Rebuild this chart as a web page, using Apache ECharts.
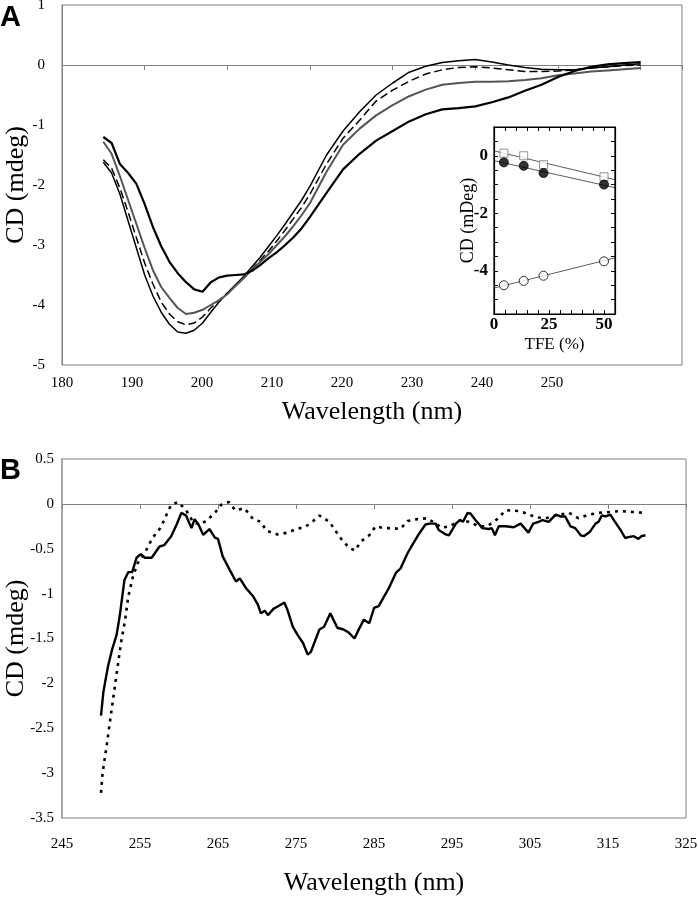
<!DOCTYPE html>
<html>
<head>
<meta charset="utf-8">
<script src="https://cdn.jsdelivr.net/npm/echarts@6.0.0/dist/echarts.min.js"></script>
<style>
  html, body { margin: 0; padding: 0; background: #fff; }
  #main { width: 698px; height: 900px; }
</style>
</head>
<body>
<div id="main"></div>
<script>
// ---- panel A: far-UV spectra ----
var waveA = [185,186,187,188,189,190,191,192,193,194,195,196,197,198,199,200,201,202,203,204,205,206,207,208,209,210,212,214,216,218,220,222,224,226,228,230,232,234,236,238,240,242,244,246,248,250];
var cdSolid = [-1.62,-1.8,-2.15,-2.6,-3.05,-3.5,-3.85,-4.12,-4.32,-4.45,-4.47,-4.42,-4.3,-4.12,-3.95,-3.8,-3.66,-3.52,-3.36,-3.2,-3.02,-2.84,-2.65,-2.45,-2.25,-2.02,-1.5,-1.1,-0.78,-0.5,-0.3,-0.12,-0.02,0.04,0.07,0.09,0.05,0.0,-0.04,-0.07,-0.08,-0.08,-0.05,-0.03,0.0,0.02];
var cdDashed = [-1.58,-1.72,-2.05,-2.45,-2.88,-3.3,-3.65,-3.95,-4.15,-4.28,-4.33,-4.3,-4.2,-4.05,-3.92,-3.8,-3.68,-3.55,-3.4,-3.25,-3.1,-2.93,-2.75,-2.56,-2.37,-2.15,-1.65,-1.22,-0.92,-0.6,-0.42,-0.27,-0.15,-0.08,-0.04,-0.03,-0.05,-0.08,-0.11,-0.11,-0.1,-0.08,-0.05,-0.03,-0.01,0.0];
var cdGray = [-1.28,-1.48,-1.85,-2.25,-2.65,-3.05,-3.42,-3.7,-3.88,-4.05,-4.15,-4.13,-4.08,-4.0,-3.92,-3.82,-3.68,-3.55,-3.4,-3.28,-3.15,-3.0,-2.85,-2.68,-2.5,-2.3,-1.78,-1.33,-1.06,-0.84,-0.67,-0.52,-0.41,-0.33,-0.3,-0.28,-0.28,-0.27,-0.25,-0.22,-0.17,-0.14,-0.11,-0.09,-0.07,-0.05];
var cdThick = [-1.2,-1.3,-1.65,-1.8,-1.98,-2.32,-2.7,-3.02,-3.28,-3.47,-3.62,-3.74,-3.78,-3.62,-3.54,-3.51,-3.5,-3.49,-3.43,-3.33,-3.22,-3.12,-3.0,-2.87,-2.72,-2.53,-2.13,-1.74,-1.48,-1.26,-1.1,-0.94,-0.82,-0.74,-0.72,-0.69,-0.62,-0.54,-0.43,-0.33,-0.2,-0.1,-0.03,0.01,0.03,0.05];

// ---- inset: CD vs TFE ----
var tfe = [4.5, 13.5, 22.5, 50];
var cdSquare = [0.09, 0, -0.31, -0.73];
var cdFilled = [-0.23, -0.35, -0.6, -1.0];
var cdOpen = [-4.5, -4.35, -4.17, -3.67];
var fitTfe = [0, 55];
var fitSquare = [0.17, -0.83];
var fitFilled = [-0.17, -1.11];
var fitOpen = [-4.6, -3.55];

// ---- panel B: near-UV spectra ----
var waveBSolid = [250,250.3,250.5,250.9,251.4,252,252.4,253,253.5,254,254.55,255.1,255.6,256.5,257.5,258.1,259,259.7,260.3,260.9,261.6,262,262.5,263.1,263.9,264.6,265,265.6,266.5,267.3,267.8,268.6,269.5,270.1,270.5,271,271.4,272.1,272.7,273.5,273.9,274.6,275.2,275.9,276.5,276.9,278,278.6,279.4,280.3,281.1,281.7,282.5,283.1,283.7,284.4,285,285.6,286.3,286.9,287.8,288.4,289.3,289.9,290.8,291.6,292.1,292.9,293.3,294.2,294.6,295.5,296,296.4,297,297.4,298,298.9,299.7,300.1,300.5,301,301.9,302.9,303.8,304.8,305.4,306.1,306.6,307.4,308.3,308.9,309.5,310.2,310.8,311.5,311.9,312.7,313.4,313.8,314.2,314.7,315.3,315.9,316.6,317.2,317.6,318.3,318.9,319.3,319.8];
var cdBSolid = [-2.36,-2.1,-2.0,-1.81,-1.63,-1.46,-1.25,-0.85,-0.76,-0.76,-0.6,-0.56,-0.6,-0.6,-0.475,-0.46,-0.36,-0.23,-0.1,-0.13,-0.27,-0.17,-0.23,-0.345,-0.28,-0.375,-0.39,-0.585,-0.735,-0.865,-0.83,-0.94,-1.03,-1.12,-1.22,-1.19,-1.24,-1.17,-1.14,-1.1,-1.18,-1.37,-1.46,-1.55,-1.68,-1.65,-1.4,-1.37,-1.22,-1.38,-1.4,-1.43,-1.5,-1.39,-1.29,-1.33,-1.16,-1.14,-1.03,-0.94,-0.77,-0.72,-0.55,-0.46,-0.33,-0.23,-0.22,-0.22,-0.29,-0.34,-0.35,-0.22,-0.18,-0.2,-0.1,-0.11,-0.18,-0.27,-0.28,-0.27,-0.35,-0.25,-0.25,-0.26,-0.22,-0.32,-0.22,-0.2,-0.18,-0.2,-0.12,-0.14,-0.14,-0.25,-0.27,-0.35,-0.36,-0.31,-0.22,-0.2,-0.13,-0.14,-0.12,-0.2,-0.29,-0.38,-0.37,-0.36,-0.39,-0.36,-0.35];
var waveBDot = [250,250.2,250.7,251.3,251.8,252.2,252.6,253.1,253.5,254.1,254.7,255.6,256.6,257.7,258.4,259,259.9,260.9,261.8,262.6,263.5,264.6,265.4,266.4,267.2,268.4,269.5,270.5,271.2,272.6,274,275,276.1,277.1,278,279.3,279.9,280.8,281.8,282.6,283.3,284.4,285.2,286.3,287.4,288.4,289.3,290.6,291.8,293.8,295.1,296.1,297.1,298.5,299.5,300.8,301.9,303.6,304.7,305.7,307,308.7,310,311.2,312.5,313.8,315.3,316.6,318.1,319.7];
var cdBDot = [-3.22,-3.0,-2.71,-2.33,-2.02,-1.77,-1.53,-1.29,-1.03,-0.81,-0.66,-0.55,-0.38,-0.26,-0.12,-0.01,0.02,-0.07,-0.2,-0.23,-0.19,-0.1,-0.01,0.02,-0.07,-0.05,-0.17,-0.2,-0.3,-0.34,-0.32,-0.28,-0.26,-0.2,-0.13,-0.2,-0.28,-0.39,-0.49,-0.52,-0.42,-0.35,-0.25,-0.27,-0.27,-0.28,-0.19,-0.17,-0.16,-0.27,-0.23,-0.18,-0.2,-0.25,-0.25,-0.17,-0.07,-0.08,-0.11,-0.15,-0.16,-0.12,-0.1,-0.16,-0.12,-0.1,-0.09,-0.08,-0.09,-0.1];

function pairs(xs, ys) {
  return xs.map(function (x, i) { return [x, ys[i]]; });
}

var serif = 'Liberation Serif, Times New Roman, serif';
var gray = '#808080';

var chart = echarts.init(document.getElementById('main'));

var option = {
  backgroundColor: '#fff',
  animation: false,
  graphic: [
    { type: 'text', left: 0, top: 3, style: { text: 'A', font: 'bold 29px Liberation Sans, Arial, sans-serif', fill: '#000' } },
    { type: 'text', left: 0, top: 456, style: { text: 'B', font: 'bold 29px Liberation Sans, Arial, sans-serif', fill: '#000' } }
  ],
  grid: [
    { left: 62, top: 5, width: 620, height: 360, show: true, borderColor: gray, borderWidth: 1, outerBoundsMode: 'none', containLabel: false },
    { left: 494, top: 127, width: 121, height: 187, show: true, borderColor: '#000', borderWidth: 1.2, backgroundColor: '#fff', outerBoundsMode: 'none', containLabel: false },
    { left: 62, top: 459, width: 624, height: 359, show: true, borderColor: gray, borderWidth: 1, outerBoundsMode: 'none', containLabel: false }
  ],
  xAxis: [
    // A: data axis sitting on zero, ticks only
    { type: 'value', gridIndex: 0, min: 180, max: 255, interval: 10,
      axisLine: { onZero: true, lineStyle: { color: gray, width: 1 } },
      axisTick: { show: true, length: 5, lineStyle: { color: gray } },
      axisLabel: { show: false }, splitLine: { show: false } },
    // A: tick labels along the bottom
    { type: 'value', gridIndex: 0, position: 'bottom', min: 180, max: 180 + 620 / 7, interval: 10,
      axisLine: { show: false, onZero: false }, axisTick: { show: false }, splitLine: { show: false },
      axisLabel: { margin: 11, fontFamily: serif, fontSize: 15, color: '#000',
        formatter: function (v) { return v <= 250 ? String(v) : ''; } },
      name: 'Wavelength (nm)', nameLocation: 'middle', nameGap: 34, nameMoveOverlap: false,
      nameTextStyle: { fontFamily: serif, fontSize: 26, color: '#000' } },
    // inset bottom
    { type: 'value', gridIndex: 1, min: 0, max: 55, interval: 5,
      axisLine: { onZero: false, lineStyle: { color: '#000', width: 1.2 } },
      axisTick: { inside: true, length: 4, lineStyle: { color: '#000' } },
      axisLabel: { margin: 2, fontFamily: serif, fontSize: 17, fontWeight: 'bold', color: '#000',
        formatter: function (v) { return v % 25 === 0 ? String(v) : ''; } },
      splitLine: { show: false },
      name: 'TFE (%)', nameLocation: 'middle', nameGap: 22, nameMoveOverlap: false,
      nameTextStyle: { fontFamily: serif, fontSize: 17, color: '#000' } },
    // inset top mirror
    { type: 'value', gridIndex: 1, position: 'top', min: 0, max: 55, interval: 5,
      axisLine: { onZero: false, lineStyle: { color: '#000', width: 1.2 } },
      axisTick: { inside: true, length: 4, lineStyle: { color: '#000' } },
      axisLabel: { show: false }, splitLine: { show: false } },
    // B: data axis on zero
    { type: 'value', gridIndex: 2, min: 245, max: 325, interval: 10,
      axisLine: { onZero: true, lineStyle: { color: gray, width: 1 } },
      axisTick: { show: true, length: 5, lineStyle: { color: gray } },
      axisLabel: { show: false }, splitLine: { show: false } },
    // B: labels along the bottom
    { type: 'value', gridIndex: 2, position: 'bottom', min: 245, max: 325, interval: 10,
      axisLine: { show: false, onZero: false }, axisTick: { show: false }, splitLine: { show: false },
      axisLabel: { margin: 19, fontFamily: serif, fontSize: 15, color: '#000' },
      name: 'Wavelength (nm)', nameLocation: 'middle', nameGap: 52, nameMoveOverlap: false,
      nameTextStyle: { fontFamily: serif, fontSize: 26, color: '#000' } }
  ],
  yAxis: [
    { type: 'value', gridIndex: 0, min: -5, max: 1, interval: 1,
      axisLine: { show: true, onZero: false, lineStyle: { color: gray, width: 1 } },
      axisTick: { show: false }, splitLine: { show: false },
      axisLabel: { margin: 17, fontFamily: serif, fontSize: 15, color: '#000' },
      name: 'CD (mdeg)', nameLocation: 'middle', nameGap: 33, nameRotate: 90, nameMoveOverlap: false,
      nameTextStyle: { fontFamily: serif, fontSize: 26, color: '#000' } },
    { type: 'value', gridIndex: 1, min: -5.5, max: 1, interval: 0.5,
      axisLine: { show: true, onZero: false, lineStyle: { color: '#000', width: 1.2 } },
      axisTick: { inside: true, length: 4, lineStyle: { color: '#000' } },
      splitLine: { show: false },
      axisLabel: { margin: 6, fontFamily: serif, fontSize: 17, fontWeight: 'bold', color: '#000',
        formatter: function (v) { return (Math.abs(v) < 1e-9 || (Math.abs(v % 2) < 1e-9 && v >= -4)) ? String(Math.round(v)) : ''; } },
      name: 'CD (mDeg)', nameLocation: 'middle', nameGap: 17, nameRotate: 90, nameMoveOverlap: false,
      nameTextStyle: { fontFamily: serif, fontSize: 18, color: '#000' } },
    { type: 'value', gridIndex: 1, position: 'right', min: -5.5, max: 1, interval: 0.5,
      axisLine: { show: true, onZero: false, lineStyle: { color: '#000', width: 1.2 } },
      axisTick: { inside: true, length: 4, lineStyle: { color: '#000' } },
      axisLabel: { show: false }, splitLine: { show: false } },
    { type: 'value', gridIndex: 2, min: -3.5, max: 0.5, interval: 0.5,
      axisLine: { show: true, onZero: false, lineStyle: { color: '#a8a8a8', width: 2 } },
      axisTick: { show: false }, splitLine: { show: false },
      axisLabel: { margin: 8, fontFamily: serif, fontSize: 15, color: '#000' },
      name: 'CD (mdeg)', nameLocation: 'middle', nameGap: 33, nameRotate: 90, nameMoveOverlap: false,
      nameTextStyle: { fontFamily: serif, fontSize: 26, color: '#000' } }
  ],
  series: [
    { type: 'line', xAxisIndex: 0, yAxisIndex: 0, showSymbol: false, data: pairs(waveA, cdSolid),
      lineStyle: { color: '#000', width: 1.5 } },
    { type: 'line', xAxisIndex: 0, yAxisIndex: 0, showSymbol: false, data: pairs(waveA, cdDashed),
      lineStyle: { color: '#000', width: 1.5, type: [8, 4] } },
    { type: 'line', xAxisIndex: 0, yAxisIndex: 0, showSymbol: false, data: pairs(waveA, cdGray),
      lineStyle: { color: '#555', width: 2 } },
    { type: 'line', xAxisIndex: 0, yAxisIndex: 0, showSymbol: false, data: pairs(waveA, cdThick),
      lineStyle: { color: '#000', width: 2.2 } },

    // inset fits and points
    { type: 'line', xAxisIndex: 2, yAxisIndex: 1, showSymbol: false, data: pairs(fitTfe, fitSquare),
      lineStyle: { color: '#333', width: 0.8 }, z: 3 },
    { type: 'line', xAxisIndex: 2, yAxisIndex: 1, showSymbol: false, data: pairs(fitTfe, fitFilled),
      lineStyle: { color: '#333', width: 0.8 }, z: 3 },
    { type: 'line', xAxisIndex: 2, yAxisIndex: 1, showSymbol: false, data: pairs(fitTfe, fitOpen),
      lineStyle: { color: '#333', width: 0.8 }, z: 3 },
    { type: 'scatter', xAxisIndex: 2, yAxisIndex: 1, data: pairs(tfe, cdSquare), symbol: 'rect', symbolSize: 8,
      itemStyle: { color: '#fff', borderColor: '#777', borderWidth: 1 }, z: 4 },
    { type: 'scatter', xAxisIndex: 2, yAxisIndex: 1, data: pairs(tfe, cdFilled), symbol: 'circle', symbolSize: 9,
      itemStyle: { color: '#000', borderColor: '#000', borderWidth: 1 }, z: 4 },
    { type: 'scatter', xAxisIndex: 2, yAxisIndex: 1, data: pairs(tfe, cdOpen), symbol: 'circle', symbolSize: 9,
      itemStyle: { color: '#fff', borderColor: '#000', borderWidth: 1 }, z: 4 },

    // panel B
    { type: 'line', xAxisIndex: 4, yAxisIndex: 3, showSymbol: false, data: pairs(waveBSolid, cdBSolid),
      lineStyle: { color: '#000', width: 2.4 } },
    { type: 'line', xAxisIndex: 4, yAxisIndex: 3, showSymbol: false, data: pairs(waveBDot, cdBDot),
      lineStyle: { color: '#000', width: 2.6, type: [3, 5] } }
  ]
};

chart.setOption(option);
</script>
</body>
</html>
